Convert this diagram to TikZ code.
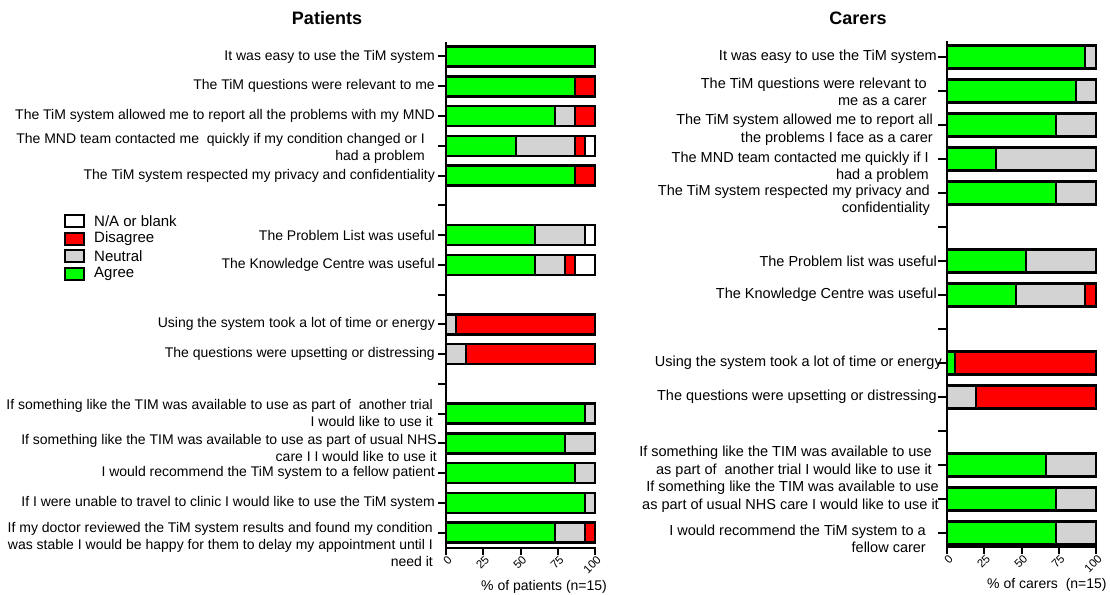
\documentclass[tikz,border=0pt]{standalone}
\usepackage{fontspec}
\setmainfont{Liberation Sans}
\definecolor{chartcolor0000}{RGB}{0,255,0}
\definecolor{chartcolor0001}{RGB}{255,0,0}
\definecolor{chartcolor0002}{RGB}{211,211,211}
\definecolor{chartcolor0003}{RGB}{0,0,0}
\begin{document}
\begin{tikzpicture}[yscale=-1
                ,pstyle1/.style={color=chartcolor0003,line width=2.5pt}
                ,pstyle2/.style={color=chartcolor0003,line width=2pt}
                ,pstyle3/.style={fill=chartcolor0000,draw=chartcolor0003,line width=2pt}
                ,pstyle4/.style={fill=chartcolor0002,draw=chartcolor0003,line width=2pt}
                ,pstyle5/.style={fill=chartcolor0001,draw=chartcolor0003,line width=2pt}
                ,pstyle6/.style={fill=white,draw=chartcolor0003,line width=2pt}
                ,pstyle7/.style={draw=chartcolor0003,line width=2.5pt}
                ,ptitle/.style={inner sep=0pt,color=black,font=\fontsize{18pt}{21pt}\selectfont\bfseries}
                ,plabel/.style={left,inner sep=0pt,align=right,color=black,font=\fontsize{14pt}{17pt}\selectfont}
                ,clabel/.style={left,inner sep=0pt,align=right,color=black,font=\fontsize{14.5pt}{17.5pt}\selectfont}
                ,pnum/.style={rotate=45,anchor=east,inner sep=0pt,color=black,font=\fontsize{11.5pt}{13pt}\selectfont}
                ,paxis/.style={right,inner sep=0pt,color=black,font=\fontsize{14pt}{17pt}\selectfont}
                ,plegend/.style={right,inner sep=0pt,color=black,font=\fontsize{15pt}{18pt}\selectfont}
            ]
            \useasboundingbox (0pt,0pt) rectangle (1110pt,594pt);
            % Patients
            \node (ptitle) at (327pt,18pt)[ptitle]{Patients};
            \draw[pstyle1] (446pt,42pt) -- (446pt,548pt) -- (596pt,548pt);
            \draw[pstyle2] (438pt,56.5pt) -- (446pt,56.5pt);
            \draw[pstyle2] (438pt,86.25pt) -- (446pt,86.25pt);
            \draw[pstyle2] (438pt,116pt) -- (446pt,116pt);
            \draw[pstyle2] (438pt,145.75pt) -- (446pt,145.75pt);
            \draw[pstyle2] (438pt,175.5pt) -- (446pt,175.5pt);
            \draw[pstyle2] (438pt,205.25pt) -- (446pt,205.25pt);
            \draw[pstyle2] (438pt,235pt) -- (446pt,235pt);
            \draw[pstyle2] (438pt,264.75pt) -- (446pt,264.75pt);
            \draw[pstyle2] (438pt,294.5pt) -- (446pt,294.5pt);
            \draw[pstyle2] (438pt,324.25pt) -- (446pt,324.25pt);
            \draw[pstyle2] (438pt,354pt) -- (446pt,354pt);
            \draw[pstyle2] (438pt,383.75pt) -- (446pt,383.75pt);
            \draw[pstyle2] (438pt,413.5pt) -- (446pt,413.5pt);
            \draw[pstyle2] (438pt,443.25pt) -- (446pt,443.25pt);
            \draw[pstyle2] (438pt,473pt) -- (446pt,473pt);
            \draw[pstyle2] (438pt,502.75pt) -- (446pt,502.75pt);
            \draw[pstyle2] (438pt,532.5pt) -- (446pt,532.5pt);
            \draw[pstyle2] (446pt,548pt) -- (446pt,555pt);
            \draw[pstyle2] (483.25pt,548pt) -- (483.25pt,555pt);
            \draw[pstyle2] (520.5pt,548pt) -- (520.5pt,555pt);
            \draw[pstyle2] (557.75pt,548pt) -- (557.75pt,555pt);
            \draw[pstyle2] (595pt,548pt) -- (595pt,555pt);
            \node (pnum0) at (450pt,558pt)[pnum]{0};
            \node (pnum25) at (487.25pt,558pt)[pnum]{25};
            \node (pnum50) at (524.5pt,558pt)[pnum]{50};
            \node (pnum75) at (561.75pt,558pt)[pnum]{75};
            \node (pnum100) at (599pt,558pt)[pnum]{100};
            \node (paxis) at (481pt,587pt)[paxis]{\% of patients (n=15)};
            \draw[pstyle3] (446pt,46.5pt) rectangle (595pt,66.5pt);
            \draw[pstyle7] (446pt,46.5pt) rectangle (595pt,66.5pt);
            \draw[pstyle3] (446pt,76.25pt) rectangle (575.13pt,96.25pt);
            \draw[pstyle5] (575.13pt,76.25pt) rectangle (595pt,96.25pt);
            \draw[pstyle7] (446pt,76.25pt) rectangle (595pt,96.25pt);
            \draw[pstyle3] (446pt,106pt) rectangle (555.27pt,126pt);
            \draw[pstyle4] (555.27pt,106pt) rectangle (575.13pt,126pt);
            \draw[pstyle5] (575.13pt,106pt) rectangle (595pt,126pt);
            \draw[pstyle7] (446pt,106pt) rectangle (595pt,126pt);
            \draw[pstyle3] (446pt,135.75pt) rectangle (515.53pt,155.75pt);
            \draw[pstyle4] (515.53pt,135.75pt) rectangle (575.13pt,155.75pt);
            \draw[pstyle5] (575.13pt,135.75pt) rectangle (585.07pt,155.75pt);
            \draw[pstyle6] (585.07pt,135.75pt) rectangle (595pt,155.75pt);
            \draw[pstyle7] (446pt,135.75pt) rectangle (595pt,155.75pt);
            \draw[pstyle3] (446pt,165.5pt) rectangle (575.13pt,185.5pt);
            \draw[pstyle5] (575.13pt,165.5pt) rectangle (595pt,185.5pt);
            \draw[pstyle7] (446pt,165.5pt) rectangle (595pt,185.5pt);
            \draw[pstyle3] (446pt,225pt) rectangle (535.4pt,245pt);
            \draw[pstyle4] (535.4pt,225pt) rectangle (585.07pt,245pt);
            \draw[pstyle6] (585.07pt,225pt) rectangle (595pt,245pt);
            \draw[pstyle7] (446pt,225pt) rectangle (595pt,245pt);
            \draw[pstyle3] (446pt,254.75pt) rectangle (535.4pt,274.75pt);
            \draw[pstyle4] (535.4pt,254.75pt) rectangle (565.2pt,274.75pt);
            \draw[pstyle5] (565.2pt,254.75pt) rectangle (575.13pt,274.75pt);
            \draw[pstyle6] (575.13pt,254.75pt) rectangle (595pt,274.75pt);
            \draw[pstyle7] (446pt,254.75pt) rectangle (595pt,274.75pt);
            \draw[pstyle4] (446pt,314.25pt) rectangle (455.93pt,334.25pt);
            \draw[pstyle5] (455.93pt,314.25pt) rectangle (595pt,334.25pt);
            \draw[pstyle7] (446pt,314.25pt) rectangle (595pt,334.25pt);
            \draw[pstyle4] (446pt,344pt) rectangle (465.87pt,364pt);
            \draw[pstyle5] (465.87pt,344pt) rectangle (595pt,364pt);
            \draw[pstyle7] (446pt,344pt) rectangle (595pt,364pt);
            \draw[pstyle3] (446pt,403.5pt) rectangle (585.07pt,423.5pt);
            \draw[pstyle4] (585.07pt,403.5pt) rectangle (595pt,423.5pt);
            \draw[pstyle7] (446pt,403.5pt) rectangle (595pt,423.5pt);
            \draw[pstyle3] (446pt,433.25pt) rectangle (565.2pt,453.25pt);
            \draw[pstyle4] (565.2pt,433.25pt) rectangle (595pt,453.25pt);
            \draw[pstyle7] (446pt,433.25pt) rectangle (595pt,453.25pt);
            \draw[pstyle3] (446pt,463pt) rectangle (575.13pt,483pt);
            \draw[pstyle4] (575.13pt,463pt) rectangle (595pt,483pt);
            \draw[pstyle7] (446pt,463pt) rectangle (595pt,483pt);
            \draw[pstyle3] (446pt,492.75pt) rectangle (585.07pt,512.75pt);
            \draw[pstyle4] (585.07pt,492.75pt) rectangle (595pt,512.75pt);
            \draw[pstyle7] (446pt,492.75pt) rectangle (595pt,512.75pt);
            \draw[pstyle3] (446pt,522.5pt) rectangle (555.27pt,542.5pt);
            \draw[pstyle4] (555.27pt,522.5pt) rectangle (585.07pt,542.5pt);
            \draw[pstyle5] (585.07pt,522.5pt) rectangle (595pt,542.5pt);
            \draw[pstyle7] (446pt,522.5pt) rectangle (595pt,542.5pt);
            \node (plab1) at (435pt,56.5pt)[plabel]{It was easy to use the TiM system};
            \node (plab2) at (435pt,86.25pt)[plabel]{The TiM questions were relevant to me};
            \node (plab3) at (435pt,116pt)[plabel]{The TiM system allowed me to report all the problems with my MND};
            \node (plab4) at (425pt,148.5pt)[plabel]{The MND team contacted me\ \ quickly if my condition changed or I\\had a problem};
            \node (plab5) at (435pt,175.5pt)[plabel]{The TiM system respected my privacy and confidentiality};
            \node (plab6) at (435pt,235pt)[plabel]{The Problem List was useful};
            \node (plab7) at (435pt,264.75pt)[plabel]{The Knowledge Centre was useful};
            \node (plab8) at (435pt,324.25pt)[plabel]{Using the system took a lot of time or energy};
            \node (plab9) at (435pt,354pt)[plabel]{The questions were upsetting or distressing};
            \node (plab10) at (433pt,412.5pt)[plabel]{If something like the TIM was available to use as part of\ \ another trial\\I would like to use it};
            \node (plab11) at (437pt,447.5pt)[plabel]{If something like the TIM was available to use as part of usual NHS\\care I I would like to use it};
            \node (plab12) at (435pt,473pt)[plabel]{I would recommend the TiM system to a fellow patient};
            \node (plab13) at (435pt,502.75pt)[plabel]{If I were unable to travel to clinic I would like to use the TiM system};
            \node (plab14) at (433pt,544pt)[plabel]{If my doctor reviewed the TiM system results and found my condition\\was stable I would be happy for them to delay my appointment until I\\need it};
            % legend
            \draw[pstyle6] (65pt,215pt) rectangle (84pt,227pt);
            \node (lblank) at (94pt,221pt)[plegend]{N/A or blank};
            \draw[pstyle5] (65pt,233pt) rectangle (84pt,245pt);
            \node (ldisagree) at (94pt,239pt)[plegend]{Disagree};
            \draw[pstyle4] (65pt,250pt) rectangle (84pt,262pt);
            \node (lneutral) at (94pt,256pt)[plegend]{Neutral};
            \draw[pstyle3] (65pt,268pt) rectangle (84pt,280pt);
            \node (lagree) at (94pt,274pt)[plegend]{Agree};
            % Carers
            \node (ctitle) at (858pt,18pt)[ptitle]{Carers};
            \draw[pstyle1] (947pt,41pt) -- (947pt,547pt) -- (1097pt,547pt);
            \draw[pstyle2] (938pt,57pt) -- (947pt,57pt);
            \draw[pstyle2] (938pt,91pt) -- (947pt,91pt);
            \draw[pstyle2] (938pt,125pt) -- (947pt,125pt);
            \draw[pstyle2] (938pt,159pt) -- (947pt,159pt);
            \draw[pstyle2] (938pt,193pt) -- (947pt,193pt);
            \draw[pstyle2] (938pt,227pt) -- (947pt,227pt);
            \draw[pstyle2] (938pt,261pt) -- (947pt,261pt);
            \draw[pstyle2] (938pt,295pt) -- (947pt,295pt);
            \draw[pstyle2] (938pt,329pt) -- (947pt,329pt);
            \draw[pstyle2] (938pt,363pt) -- (947pt,363pt);
            \draw[pstyle2] (938pt,397pt) -- (947pt,397pt);
            \draw[pstyle2] (938pt,431pt) -- (947pt,431pt);
            \draw[pstyle2] (938pt,465pt) -- (947pt,465pt);
            \draw[pstyle2] (938pt,499pt) -- (947pt,499pt);
            \draw[pstyle2] (938pt,533pt) -- (947pt,533pt);
            \draw[pstyle2] (947pt,547pt) -- (947pt,554pt);
            \draw[pstyle2] (984.25pt,547pt) -- (984.25pt,554pt);
            \draw[pstyle2] (1021.5pt,547pt) -- (1021.5pt,554pt);
            \draw[pstyle2] (1058.75pt,547pt) -- (1058.75pt,554pt);
            \draw[pstyle2] (1096pt,547pt) -- (1096pt,554pt);
            \node (cnum0) at (951pt,557pt)[pnum]{0};
            \node (cnum25) at (988.25pt,557pt)[pnum]{25};
            \node (cnum50) at (1025.5pt,557pt)[pnum]{50};
            \node (cnum75) at (1062.75pt,557pt)[pnum]{75};
            \node (cnum100) at (1100pt,557pt)[pnum]{100};
            \node (caxis) at (987pt,585pt)[paxis]{\% of carers\ \ (n=15)};
            \draw[pstyle3] (947pt,45.5pt) rectangle (1085pt,68.5pt);
            \draw[pstyle4] (1085pt,45.5pt) rectangle (1096pt,68.5pt);
            \draw[pstyle7] (947pt,45.5pt) rectangle (1096pt,68.5pt);
            \draw[pstyle3] (947pt,79.5pt) rectangle (1075.7pt,102.5pt);
            \draw[pstyle4] (1075.7pt,79.5pt) rectangle (1096pt,102.5pt);
            \draw[pstyle7] (947pt,79.5pt) rectangle (1096pt,102.5pt);
            \draw[pstyle3] (947pt,113.5pt) rectangle (1055.8pt,136.5pt);
            \draw[pstyle4] (1055.8pt,113.5pt) rectangle (1096pt,136.5pt);
            \draw[pstyle7] (947pt,113.5pt) rectangle (1096pt,136.5pt);
            \draw[pstyle3] (947pt,147.5pt) rectangle (995.6pt,170.5pt);
            \draw[pstyle4] (995.6pt,147.5pt) rectangle (1096pt,170.5pt);
            \draw[pstyle7] (947pt,147.5pt) rectangle (1096pt,170.5pt);
            \draw[pstyle3] (947pt,181.5pt) rectangle (1055.8pt,204.5pt);
            \draw[pstyle4] (1055.8pt,181.5pt) rectangle (1096pt,204.5pt);
            \draw[pstyle7] (947pt,181.5pt) rectangle (1096pt,204.5pt);
            \draw[pstyle3] (947pt,249.5pt) rectangle (1026pt,272.5pt);
            \draw[pstyle4] (1026pt,249.5pt) rectangle (1096pt,272.5pt);
            \draw[pstyle7] (947pt,249.5pt) rectangle (1096pt,272.5pt);
            \draw[pstyle3] (947pt,283.5pt) rectangle (1015.8pt,306.5pt);
            \draw[pstyle4] (1015.8pt,283.5pt) rectangle (1085.3pt,306.5pt);
            \draw[pstyle5] (1085.3pt,283.5pt) rectangle (1096pt,306.5pt);
            \draw[pstyle7] (947pt,283.5pt) rectangle (1096pt,306.5pt);
            \draw[pstyle3] (947pt,351.5pt) rectangle (955.3pt,374.5pt);
            \draw[pstyle5] (955.3pt,351.5pt) rectangle (1096pt,374.5pt);
            \draw[pstyle7] (947pt,351.5pt) rectangle (1096pt,374.5pt);
            \draw[pstyle4] (947pt,385.5pt) rectangle (975.9pt,408.5pt);
            \draw[pstyle5] (975.9pt,385.5pt) rectangle (1096pt,408.5pt);
            \draw[pstyle7] (947pt,385.5pt) rectangle (1096pt,408.5pt);
            \draw[pstyle3] (947pt,453.5pt) rectangle (1045.8pt,476.5pt);
            \draw[pstyle4] (1045.8pt,453.5pt) rectangle (1096pt,476.5pt);
            \draw[pstyle7] (947pt,453.5pt) rectangle (1096pt,476.5pt);
            \draw[pstyle3] (947pt,487.5pt) rectangle (1055.8pt,510.5pt);
            \draw[pstyle4] (1055.8pt,487.5pt) rectangle (1096pt,510.5pt);
            \draw[pstyle7] (947pt,487.5pt) rectangle (1096pt,510.5pt);
            \draw[pstyle3] (947pt,521.5pt) rectangle (1055.8pt,544.5pt);
            \draw[pstyle4] (1055.8pt,521.5pt) rectangle (1096pt,544.5pt);
            \draw[pstyle7] (947pt,521.5pt) rectangle (1096pt,544.5pt);
            \node (clab1) at (937pt,57pt)[clabel]{It was easy to use the TiM system};
            \node (clab2) at (927pt,92pt)[clabel]{The TiM questions were relevant to\\me as a carer};
            \node (clab3) at (933pt,130pt)[clabel]{The TiM system allowed me to report all\\the problems I face as a carer};
            \node (clab4) at (929pt,167pt)[clabel]{The MND team contacted me quickly if I\\had a problem};
            \node (clab5) at (930pt,200pt)[clabel]{The TiM system respected my privacy and\\confidentiality};
            \node (clab6) at (937pt,261pt)[clabel]{The Problem list was useful};
            \node (clab7) at (937pt,295pt)[clabel]{The Knowledge Centre was useful};
            \node (clab8) at (942pt,363pt)[clabel]{Using the system took a lot of time or energy};
            \node (clab9) at (937pt,397pt)[clabel]{The questions were upsetting or distressing};
            \node (clab10) at (932pt,461.5pt)[clabel]{If something like the TIM was available to use\\as part of\ \ another trial I would like to use it};
            \node (clab11) at (939pt,496.5pt)[clabel]{If something like the TIM was available to use\\as part of usual NHS care I would like to use it};
            \node (clab12) at (926pt,539pt)[clabel]{I would recommend the TiM system to a\\fellow carer};
        \end{tikzpicture}
\end{document}
